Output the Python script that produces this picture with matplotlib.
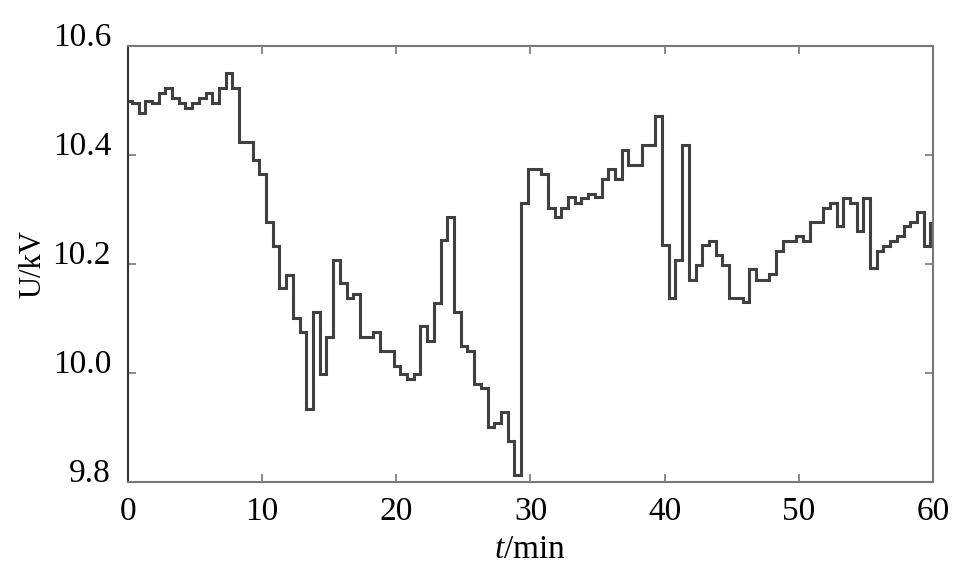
import numpy as np
import matplotlib
matplotlib.use("Agg")
import matplotlib.pyplot as plt
from matplotlib.transforms import ScaledTranslation

# 电压采样值 (kV), 约每0.5 min一个台阶
u_kv = [10.50, 10.495, 10.478, 10.50, 10.495, 10.514, 10.524, 10.504, 10.496, 10.487,
        10.496, 10.504, 10.514, 10.496, 10.524, 10.551, 10.524, 10.425, 10.425, 10.392,
        10.365, 10.278, 10.234, 10.156, 10.181, 10.102, 10.076, 9.935, 10.112, 9.998,
        10.066, 10.208, 10.165, 10.138, 10.145, 10.066, 10.066, 10.076, 10.041, 10.041,
        10.014, 9.998, 9.989, 9.998, 10.086, 10.059, 10.129, 10.244, 10.286, 10.112,
        10.049, 10.040, 9.981, 9.972, 9.901, 9.909, 9.928, 9.875, 9.813, 10.313,
        10.375, 10.375, 10.365, 10.304, 10.287, 10.304, 10.323, 10.312, 10.322, 10.328,
        10.323, 10.356, 10.375, 10.356, 10.410, 10.382, 10.382, 10.419, 10.419, 10.472,
        10.236, 10.138, 10.208, 10.419, 10.171, 10.199, 10.236, 10.243, 10.217, 10.198,
        10.138, 10.138, 10.130, 10.191, 10.171, 10.171, 10.182, 10.225, 10.243, 10.243,
        10.251, 10.243, 10.278, 10.278, 10.304, 10.313, 10.270, 10.322, 10.313, 10.260,
        10.322, 10.193, 10.225, 10.234, 10.243, 10.251, 10.270, 10.278, 10.296, 10.233,
        10.276]
# 台阶边界时刻 (min)
t_edges = np.concatenate([[0.0], np.arange(0.3, 60.0, 0.5), [60.0]])
x_ticks = [0, 10, 20, 30, 40, 50, 60]
y_ticks = [9.8, 10.0, 10.2, 10.4, 10.6]
y_labels = ['9.8', '10.0', '10.2', '10.4', '10.6']

plt.rcParams['font.family'] = ['Liberation Serif', 'DejaVu Serif']
plt.rcParams['mathtext.fontset'] = 'custom'
plt.rcParams['mathtext.it'] = 'Liberation Serif:italic'
plt.rcParams['mathtext.rm'] = 'Liberation Serif'

fig = plt.figure(figsize=(9.68, 5.7), dpi=100)
ax = fig.add_axes([0.132, 0.154, 0.832, 0.765])

ax.stairs(u_kv, t_edges, color='#404040', linewidth=2.2, baseline=None)

ax.set_xlim(0, 60)
ax.set_ylim(9.8, 10.6)
ax.set_xticks(x_ticks)
ax.set_yticks(y_ticks)
ax.set_yticklabels(y_labels)
ax.tick_params(direction='in', length=6, width=1.2, labelsize=24,
               top=True, right=True, colors='#777777', labelcolor='black')
ax.tick_params(axis='x', pad=10)
ax.tick_params(axis='y', pad=12)
for s in ax.spines.values():
    s.set_color('#777777')
    s.set_linewidth(1.5)
ax.spines['left'].set_color('#333333')

# 纵轴刻度标签略微上移
off = ScaledTranslation(0, 12 / 100, fig.dpi_scale_trans)
for lab in ax.get_yticklabels():
    lab.set_transform(lab.get_transform() + off)

ax.set_xlabel(r'$t$/min', fontsize=24, labelpad=6)
ax.set_ylabel('U/kV', fontsize=22, labelpad=4)

fig.savefig('out.png', dpi=100)
